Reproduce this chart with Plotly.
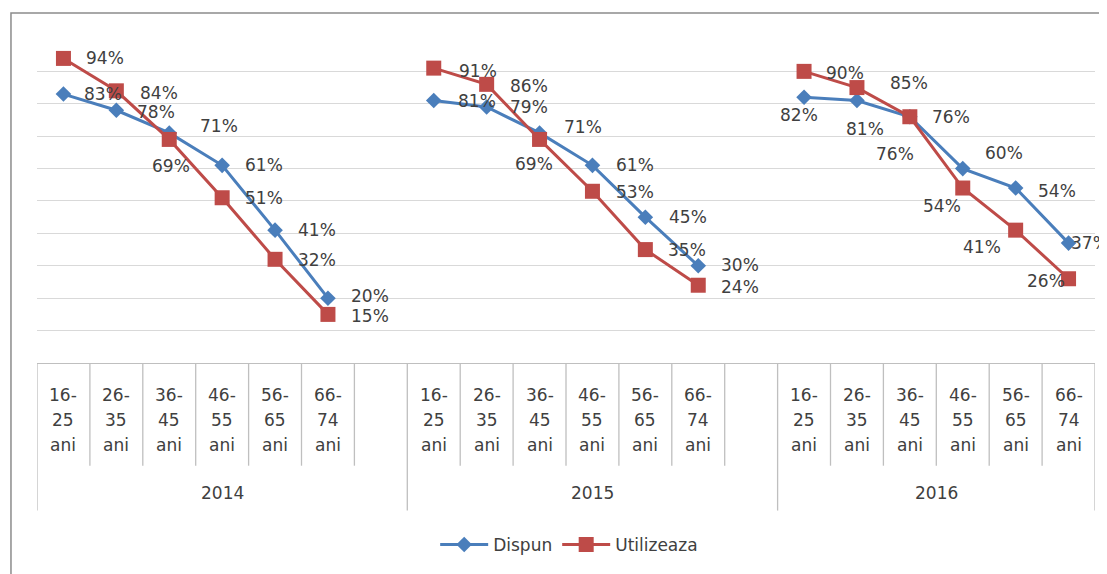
import plotly.graph_objects as go

years = ["2014", "2015", "2016"]
ages = ["16-25 ani", "26-35 ani", "36-45 ani", "46-55 ani", "56-65 ani", "66-74 ani"]

dispun_2014 = [83, 78, 71, 61, 41, 20]
dispun_2015 = [81, 79, 71, 61, 45, 30]
dispun_2016 = [82, 81, 76, 60, 54, 37]

utilizeaza_2014 = [94, 84, 69, 51, 32, 15]
utilizeaza_2015 = [91, 86, 69, 53, 35, 24]
utilizeaza_2016 = [90, 85, 76, 54, 41, 26]

dispun = [dispun_2014, dispun_2015, dispun_2016]
utilizeaza = [utilizeaza_2014, utilizeaza_2015, utilizeaza_2016]

# data label offsets from the point, in pixels (dx right, dy down)
off_dispun = [
    [(40, 0), (40, 2), (50, -7), (42, 0), (42, 0), (42, -2)],
    [(43, 0), (42, 0), (43, -6), (43, 0), (43, 0), (42, -1)],
    [(-5, 18), (8, 28), (-15, 37), (41, -16), (41, 3), (21, 0)],
]
off_util = [
    [(42, 0), (43, 2), (2, 27), (42, 0), (42, 1), (42, 2)],
    [(44, 3), (42, 2), (-6, 25), (43, 1), (42, 0), (42, 2)],
    [(41, 2), (52, -5), (41, 0), (-21, 18), (-34, 17), (-23, 2)],
]

slots = len(ages) + 1   # each year is followed by one empty slot

x_all, d_all, u_all = [], [], []
for g in range(len(years)):
    for i in range(len(ages)):
        x_all.append(g * slots + i)
        d_all.append(dispun[g][i])
        u_all.append(utilizeaza[g][i])
    if g < len(years) - 1:
        x_all.append(g * slots + len(ages))
        d_all.append(None)
        u_all.append(None)

n_slots = slots * (len(years) - 1) + len(ages)

blue = "#4a7ebb"
red = "#be4b48"
grid = "#d9d9d9"
tbl = "#bfbfbf"
txt = "#404040"
font = "DejaVu Sans"

fig = go.Figure()

fig.add_trace(go.Scatter(
    x=x_all, y=d_all,
    mode="lines+markers",
    name="Dispun",
    line=dict(color=blue, width=3),
    marker=dict(symbol="diamond", size=12, color=blue),
    connectgaps=False,
))
fig.add_trace(go.Scatter(
    x=x_all, y=u_all,
    mode="lines+markers",
    name="Utilizeaza",
    line=dict(color=red, width=3),
    marker=dict(symbol="square", size=15, color=red),
    connectgaps=False,
))

annotations = []

# data labels
for values, offsets in [(dispun, off_dispun), (utilizeaza, off_util)]:
    for g in range(len(years)):
        for i, v in enumerate(values[g]):
            dx, dy = offsets[g][i]
            annotations.append(dict(
                x=g * slots + i, y=v, xref="x", yref="y",
                text=f"{v}%", showarrow=False,
                xanchor="center", yanchor="middle",
                xshift=dx, yshift=-dy,
                font=dict(family=font, size=17, color=txt),
            ))

# category table below the plot
row_y = [-0.098, -0.175, -0.252]
for g in range(len(years)):
    for i, a in enumerate(ages):
        rng, word = a.split(" ")
        lo, hi = rng.split("-")
        for line, yy in zip([lo + "-", hi, word], row_y):
            annotations.append(dict(
                x=g * slots + i, y=yy, xref="x", yref="paper",
                text=line, showarrow=False,
                xanchor="center", yanchor="middle",
                font=dict(family=font, size=17, color=txt),
            ))

for g, yr in enumerate(years):
    first = g * slots - 0.5
    last = min(g * slots + slots, n_slots) - 0.5
    annotations.append(dict(x=(first + last) / 2, y=-0.399, xref="x", yref="paper",
                            text=yr, showarrow=False, yanchor="middle",
                            font=dict(family=font, size=17, color=txt)))

shapes = []
group_edges = [-0.5] + [g * slots + slots - 0.5 for g in range(len(years) - 1)] + [n_slots - 0.5]
for k in range(n_slots + 1):
    xe = k - 0.5
    bottom = -0.454 if xe in group_edges else -0.316
    shapes.append(dict(type="line", xref="x", yref="paper", x0=xe, x1=xe, y0=0, y1=bottom,
                       line=dict(color=tbl, width=1.3)))

# outer chart frame
shapes.append(dict(type="rect", xref="paper", yref="paper", x0=-0.0246, x1=1.06, y0=-0.75, y1=1.077,
                   line=dict(color="#8c8c8c", width=1.5), layer="below"))

fig.update_layout(
    template="none",
    width=1099, height=566,
    margin=dict(l=29, r=12, t=30, b=210),
    paper_bgcolor="white",
    plot_bgcolor="white",
    shapes=shapes,
    annotations=annotations,
    showlegend=True,
    legend=dict(orientation="h", x=0.503, xanchor="center", y=-0.555, yanchor="middle",
                itemwidth=48,
                font=dict(family=font, size=17, color=txt)),
    xaxis=dict(range=[-0.5, n_slots - 0.5], showticklabels=False,
               showgrid=False, zeroline=False, showline=True, linecolor=tbl, linewidth=1.3,
               ticks="", automargin=False),
    yaxis=dict(range=[0, 100.3], dtick=10, showgrid=True, gridcolor=grid, gridwidth=1.3,
               zeroline=False, showticklabels=False, ticks="", automargin=False),
)

fig.write_html("out.html")
